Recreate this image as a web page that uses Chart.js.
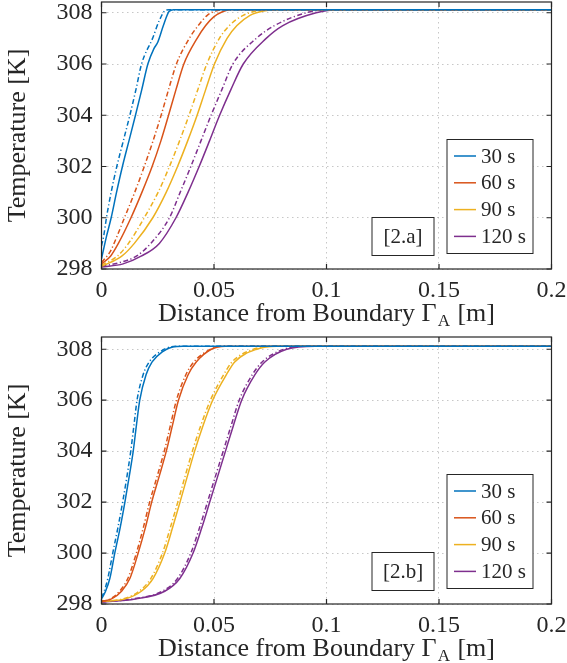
<!DOCTYPE html>
<html>
<head>
<meta charset="utf-8">
<script src="https://cdn.jsdelivr.net/npm/chart.js@4.4.1/dist/chart.umd.min.js"></script>
<style>
  body { margin: 0; background: #fff; }
  .panel { position: absolute; left: 0; }
</style>
</head>
<body>
<canvas id="chartA" class="panel" style="top:0px" width="567" height="332"></canvas>
<canvas id="chartB" class="panel" style="top:335px" width="567" height="332"></canvas>
<script>
// legend entries and colours
const times = ["30 s", "60 s", "90 s", "120 s"];
const colors = ["#0072BD", "#D95319", "#EDB120", "#7E2F8E"];
const xTicks = [0, 0.05, 0.1, 0.15, 0.2];
const yTicks = [298, 300, 302, 304, 306, 308];

// panel 2.a : [distance (m), temperature (K)] - solid and dash-dot curves
const a30 = [[0, 298.4], [0.001, 298.8], [0.0023, 299.3], [0.0043, 300.0], [0.0067, 301.0], [0.0093, 302.0], [0.0122, 303.0], [0.0151, 304.0], [0.0179, 305.0], [0.0206, 306.0], [0.0233, 306.6], [0.025, 306.85], [0.0275, 307.5], [0.030, 308.05], [0.032, 308.12], [0.2, 308.12]];
const a30d = [[0, 298.9], [0.001, 299.3], [0.0022, 300.0], [0.0043, 301.0], [0.0068, 302.0], [0.0097, 303.0], [0.0126, 304.0], [0.0153, 305.0], [0.0178, 306.0], [0.0227, 307.0], [0.0257, 307.7], [0.0285, 308.1], [0.03, 308.12], [0.2, 308.12]];
const a60 = [[0, 298.2], [0.004, 298.5], [0.0075, 299.0], [0.0131, 300.0], [0.018, 301.0], [0.0225, 302.0], [0.0264, 303.0], [0.0298, 304.0], [0.0331, 305.0], [0.0366, 306.0], [0.0425, 307.0], [0.0463, 307.5], [0.050, 307.85], [0.054, 308.05], [0.057, 308.12], [0.2, 308.12]];
const a60d = [[0, 298.25], [0.004, 298.7], [0.007, 299.3], [0.0102, 300.0], [0.0148, 301.0], [0.019, 302.0], [0.0229, 303.0], [0.0265, 304.0], [0.0298, 305.0], [0.0333, 306.0], [0.039, 307.0], [0.043, 307.5], [0.047, 307.9], [0.052, 308.1], [0.055, 308.12], [0.2, 308.12]];
const a90 = [[0, 298.1], [0.009, 298.5], [0.0146, 299.0], [0.0228, 300.0], [0.0288, 301.0], [0.0338, 302.0], [0.0383, 303.0], [0.0425, 304.0], [0.0463, 305.0], [0.0502, 306.0], [0.0558, 307.0], [0.0602, 307.5], [0.066, 307.9], [0.072, 308.07], [0.078, 308.12], [0.2, 308.12]];
const a90d = [[0, 298.15], [0.007, 298.5], [0.012, 299.0], [0.019, 300.0], [0.0252, 301.0], [0.0302, 302.0], [0.0347, 303.0], [0.0389, 304.0], [0.0428, 305.0], [0.0468, 306.0], [0.0524, 307.0], [0.0568, 307.5], [0.063, 307.9], [0.069, 308.07], [0.075, 308.12], [0.2, 308.12]];
const a120 = [[0, 298.08], [0.0096, 298.2], [0.0176, 298.5], [0.0257, 299.0], [0.0331, 300.0], [0.0385, 301.0], [0.0434, 302.0], [0.048, 303.0], [0.0525, 304.0], [0.0575, 305.0], [0.063, 306.0], [0.0732, 307.0], [0.0806, 307.5], [0.0954, 308.0], [0.105, 308.12], [0.2, 308.12]];
const a120d = [[0, 298.1], [0.008, 298.25], [0.0155, 298.5], [0.0219, 299.0], [0.0302, 300.0], [0.035, 301.0], [0.0397, 302.0], [0.0442, 303.0], [0.0487, 304.0], [0.0535, 305.0], [0.0584, 306.0], [0.0688, 307.0], [0.0769, 307.5], [0.091, 308.0], [0.1, 308.12], [0.2, 308.12]];

// panel 2.b
const b30 = [[0, 298.2], [0.0018, 298.5], [0.0037, 299.0], [0.0059, 300.0], [0.0083, 301.0], [0.0104, 302.0], [0.0123, 303.0], [0.0141, 304.0], [0.0155, 305.0], [0.017, 306.0], [0.0198, 307.0], [0.0225, 307.5], [0.027, 307.9], [0.032, 308.1], [0.036, 308.12], [0.2, 308.12]];
const b30d = [[0, 298.25], [0.0012, 298.5], [0.0028, 299.0], [0.005, 300.0], [0.0073, 301.0], [0.0094, 302.0], [0.0113, 303.0], [0.013, 304.0], [0.0144, 305.0], [0.0158, 306.0], [0.0185, 307.0], [0.0212, 307.5], [0.026, 307.9], [0.031, 308.1], [0.034, 308.12], [0.2, 308.12]];
const b60 = [[0, 298.1], [0.0045, 298.2], [0.0089, 298.5], [0.0126, 299.0], [0.0163, 300.0], [0.0195, 301.0], [0.0223, 302.0], [0.0256, 303.0], [0.0288, 304.0], [0.0315, 305.0], [0.0342, 306.0], [0.0385, 307.0], [0.0421, 307.5], [0.0488, 308.0], [0.055, 308.12], [0.2, 308.12]];
const b60d = [[0, 298.1], [0.004, 298.2], [0.008, 298.5], [0.0117, 299.0], [0.0155, 300.0], [0.0186, 301.0], [0.0214, 302.0], [0.0247, 303.0], [0.0279, 304.0], [0.0306, 305.0], [0.0333, 306.0], [0.0375, 307.0], [0.041, 307.5], [0.0475, 307.95], [0.053, 308.12], [0.2, 308.12]];
const b90 = [[0, 298.1], [0.0105, 298.2], [0.0177, 298.5], [0.0229, 299.0], [0.0281, 300.0], [0.0316, 301.0], [0.0349, 302.0], [0.0381, 303.0], [0.0414, 304.0], [0.0451, 305.0], [0.0494, 306.0], [0.0555, 307.0], [0.0592, 307.5], [0.0689, 308.0], [0.078, 308.12], [0.2, 308.12]];
const b90d = [[0, 298.1], [0.0095, 298.2], [0.0167, 298.5], [0.0219, 299.0], [0.0271, 300.0], [0.0306, 301.0], [0.0339, 302.0], [0.0371, 303.0], [0.0404, 304.0], [0.0441, 305.0], [0.0484, 306.0], [0.0543, 307.0], [0.058, 307.5], [0.0675, 308.0], [0.076, 308.12], [0.2, 308.12]];
const b120 = [[0, 298.08], [0.015, 298.2], [0.0281, 298.5], [0.0348, 299.0], [0.0407, 300.0], [0.0446, 301.0], [0.0481, 302.0], [0.0516, 303.0], [0.0551, 304.0], [0.0586, 305.0], [0.0623, 306.0], [0.0682, 307.0], [0.0726, 307.5], [0.0823, 308.0], [0.095, 308.12], [0.2, 308.12]];
const b120d = [[0, 298.08], [0.014, 298.2], [0.027, 298.5], [0.0338, 299.0], [0.0397, 300.0], [0.0436, 301.0], [0.0471, 302.0], [0.0506, 303.0], [0.0541, 304.0], [0.0576, 305.0], [0.0612, 306.0], [0.067, 307.0], [0.0714, 307.5], [0.081, 308.0], [0.093, 308.12], [0.2, 308.12]];

const textColor = "#262626";
const serif = "Liberation Serif";
const serifCss = "'Liberation Serif', serif";

function toPoints(arr) {
    return arr.map(p => ({ x: p[0], y: p[1] }));
}

// frame, inward ticks, legend box, panel tag and x title
const framePlugin = {
    id: "frame",
    afterDatasetsDraw(chart, args, opts) {
        const { ctx, chartArea: a, scales: { x, y } } = chart;
        ctx.save();
        ctx.setLineDash([]);
        ctx.strokeStyle = textColor;
        ctx.lineWidth = 1.2;
        ctx.strokeRect(a.left, a.top, a.right - a.left, a.bottom - a.top);

        const tl = 5;
        ctx.beginPath();
        xTicks.forEach(v => {
            const px = x.getPixelForValue(v);
            ctx.moveTo(px, a.bottom); ctx.lineTo(px, a.bottom - tl);
            ctx.moveTo(px, a.top); ctx.lineTo(px, a.top + tl);
        });
        yTicks.forEach(v => {
            const py = y.getPixelForValue(v);
            ctx.moveTo(a.left, py); ctx.lineTo(a.left + tl, py);
            ctx.moveTo(a.right, py); ctx.lineTo(a.right - tl, py);
        });
        ctx.stroke();

        // panel tag box
        const tagR = a.right - 117.5, tagB = a.bottom - 13.5, tagW = 62, tagH = 38;
        ctx.fillStyle = "#fff";
        ctx.fillRect(tagR - tagW, tagB - tagH, tagW, tagH);
        ctx.lineWidth = 1;
        ctx.strokeRect(tagR - tagW, tagB - tagH, tagW, tagH);
        ctx.fillStyle = textColor;
        ctx.font = "21px " + serifCss;
        ctx.textAlign = "center";
        ctx.textBaseline = "middle";
        ctx.fillText(opts.tag, tagR - tagW / 2, tagB - tagH / 2 + 1);

        // legend box (solid lines only)
        const lgR = a.right - 18.5, lgB = a.bottom - 15.5, lgW = 86, lgH = 114;
        const lgL = lgR - lgW, lgT = lgB - lgH;
        ctx.fillStyle = "#fff";
        ctx.fillRect(lgL, lgT, lgW, lgH);
        ctx.strokeStyle = textColor;
        ctx.strokeRect(lgL, lgT, lgW, lgH);
        ctx.textAlign = "left";
        const solids = chart.data.datasets.filter(d => !d.borderDash);
        solids.forEach((d, i) => {
            const cy = lgT + 16.5 + i * 26.8;
            ctx.strokeStyle = d.borderColor;
            ctx.lineWidth = 1.5;
            ctx.beginPath();
            ctx.moveTo(lgL + 7, cy); ctx.lineTo(lgL + 29, cy);
            ctx.stroke();
            ctx.fillStyle = textColor;
            ctx.fillText(d.label, lgL + 34, cy + 1);
        });

        // x axis title with subscript
        const big = "26px " + serifCss, small = "17px " + serifCss;
        const p1 = "Distance from Boundary \u0393", p2 = "A", p3 = " [m]";
        ctx.font = big; const w1 = ctx.measureText(p1).width, w3 = ctx.measureText(p3).width;
        ctx.font = small; const w2 = ctx.measureText(p2).width + 2;
        let tx = (a.left + a.right) / 2 - (w1 + w2 + w3) / 2;
        const ty = a.bottom + 52;
        ctx.textBaseline = "alphabetic";
        ctx.fillStyle = textColor;
        ctx.font = big; ctx.fillText(p1, tx, ty); tx += w1 + 1;
        ctx.font = small; ctx.fillText(p2, tx, ty + 5); tx += w2 - 1;
        ctx.font = big; ctx.fillText(p3, tx, ty);
        ctx.restore();
    }
};

function makeChart(id, tag, solid, dashed, yMax) {
    const datasets = [];
    for (let i = 0; i < times.length; i++) {
        datasets.push({
            label: times[i],
            data: toPoints(solid[i]),
            borderColor: colors[i],
            borderWidth: 1.5,
            pointRadius: 0,
            cubicInterpolationMode: "monotone"
        });
        datasets.push({
            label: times[i] + " (dash-dot)",
            data: toPoints(dashed[i]),
            borderColor: colors[i],
            borderWidth: 1.5,
            borderDash: [5, 2.5, 1.2, 2.5],
            pointRadius: 0,
            cubicInterpolationMode: "monotone"
        });
    }

    return new Chart(document.getElementById(id).getContext("2d"), {
        type: "line",
        data: { datasets: datasets },
        plugins: [framePlugin],
        options: {
            responsive: false,
            animation: false,
            events: [],
            layout: { padding: { top: 2, right: 15.5, left: 0, bottom: 0 } },
            plugins: {
                legend: { display: false },
                tooltip: { enabled: false },
                frame: { tag: tag }
            },
            scales: {
                x: {
                    type: "linear",
                    min: 0,
                    max: 0.2,
                    afterBuildTicks: s => { s.ticks = xTicks.map(v => ({ value: v })); },
                    afterFit: s => { s.height = 63; s.paddingLeft = 0; s.paddingRight = 0; },
                    ticks: {
                        color: textColor,
                        font: { family: serif, size: 24 },
                        padding: 7,
                        maxRotation: 0,
                        callback: v => String(v)
                    },
                    grid: { color: "rgba(0,0,0,0.22)", lineWidth: 1, drawTicks: false },
                    border: { display: false, dash: [1.5, 3.5] }
                },
                y: {
                    min: 298,
                    max: yMax,
                    afterBuildTicks: s => { s.ticks = yTicks.map(v => ({ value: v })); },
                    afterFit: s => { s.width = 101.5; s.paddingTop = 0; s.paddingBottom = 0; },
                    ticks: {
                        color: textColor,
                        font: { family: serif, size: 24 },
                        padding: 9
                    },
                    title: {
                        display: true,
                        text: "Temperature [K]",
                        color: textColor,
                        font: { family: serif, size: 26 },
                        padding: { top: 3, bottom: 0 }
                    },
                    grid: { color: "rgba(0,0,0,0.22)", lineWidth: 1, drawTicks: false },
                    border: { display: false, dash: [1.5, 3.5] }
                }
            }
        }
    });
}

makeChart("chartA", "[2.a]", [a30, a60, a90, a120], [a30d, a60d, a90d, a120d], 308.42);
makeChart("chartB", "[2.b]", [b30, b60, b90, b120], [b30d, b60d, b90d, b120d], 308.48);
</script>
</body>
</html>
